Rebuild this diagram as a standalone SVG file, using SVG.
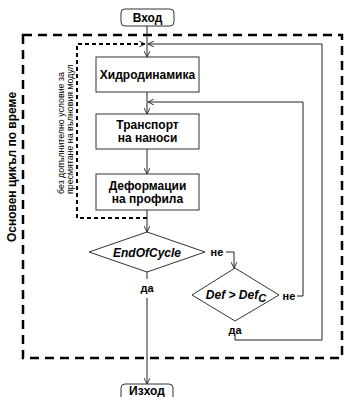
<svg xmlns="http://www.w3.org/2000/svg" width="344" height="397" viewBox="0 0 344 397">
<defs>
<marker id="arr" viewBox="0 0 10 10" refX="10" refY="5" markerWidth="6" markerHeight="6" orient="auto" markerUnits="userSpaceOnUse">
<path d="M0,0 L10,5 L0,10" fill="none" stroke="#222" stroke-width="1.5"/>
</marker>
<style>
.box{fill:#fff;stroke:#333;stroke-width:1}
.t{font-family:"Liberation Sans",Arial,sans-serif;font-weight:bold;font-size:12px;fill:#000;text-anchor:middle}
.lbl{font-family:"Liberation Sans",Arial,sans-serif;font-weight:bold;font-size:11px;fill:#000;text-anchor:middle}
.c{fill:none;stroke:#222;stroke-width:1}
.side{font-family:"Liberation Sans",Arial,sans-serif;font-size:8.8px;fill:#000}
</style>
</defs>
<rect width="344" height="397" fill="#fff"/>
<g id="outer-loop">
<rect x="23" y="35" width="319" height="323" fill="none" stroke="#000" stroke-width="2.5" stroke-dasharray="9 6"/>
<text class="t" transform="translate(15.5,167) rotate(-90)">Основен цикъл по време</text>
</g>
<g id="connectors">
<path class="c" d="M147,26 V57" marker-end="url(#arr)"/>
<path class="c" d="M235,336 V340 H322 V44 H148" marker-end="url(#arr)"/>
<path d="M147,218 H77 V44 H145" fill="none" stroke="#000" stroke-width="2" stroke-dasharray="4 3" marker-end="url(#arr)"/>
<path class="c" d="M147,92 V114" marker-end="url(#arr)"/>
<path class="c" d="M297,296 H303 V102 H148" marker-end="url(#arr)"/>
<path class="c" d="M147,149 V174" marker-end="url(#arr)"/>
<path class="c" d="M147,210 V232" marker-end="url(#arr)"/>
<path class="c" d="M226,252 H234 V268" marker-end="url(#arr)"/>
<path class="c" d="M147,272 V279"/>
<path class="c" d="M147,298 V384" marker-end="url(#arr)"/>
<text class="lbl" x="217" y="256">не</text>
<text class="lbl" x="147" y="292">да</text>
<text class="lbl" x="289" y="300">не</text>
<text class="lbl" x="235" y="334">да</text>
</g>
<g id="note">
<text class="side" transform="translate(63.5,194) rotate(-90)">без допълнително условие за</text>
<text class="side" transform="translate(72.5,194) rotate(-90)">пресмятане на вълновия модул</text>
</g>
<g id="vhod">
<rect class="box" x="121" y="9" width="53" height="17" rx="4"/>
<text class="t" x="147.5" y="22">Вход</text>
</g>
<g id="hidro">
<rect class="box" x="96" y="57" width="103" height="35"/>
<text class="t" x="147.5" y="78.5">Хидродинамика</text>
</g>
<g id="transport">
<rect class="box" x="96" y="114" width="103" height="35"/>
<text class="t" x="147.5" y="129">Транспорт</text>
<text class="t" x="147.5" y="142">на наноси</text>
</g>
<g id="deform">
<rect class="box" x="96" y="174" width="103" height="36"/>
<text class="t" x="147.5" y="189.5">Деформации</text>
<text class="t" x="147.5" y="202.5">на профила</text>
</g>
<g id="endofcycle">
<polygon class="box" points="147,232 205,252 147,272 89,252"/>
<text class="t" x="147" y="256.5" font-style="italic">EndOfCycle</text>
</g>
<g id="defcheck">
<polygon class="box" points="235,268 279,295 235,321 192,295"/>
<text class="t" x="236" y="299" font-style="italic">Def &gt; Def<tspan dy="3" font-size="11">C</tspan></text>
</g>
<g id="izhod">
<rect class="box" x="121" y="384" width="52" height="17" rx="4"/>
<text class="t" x="147" y="395">Изход</text>
</g>
</svg>
